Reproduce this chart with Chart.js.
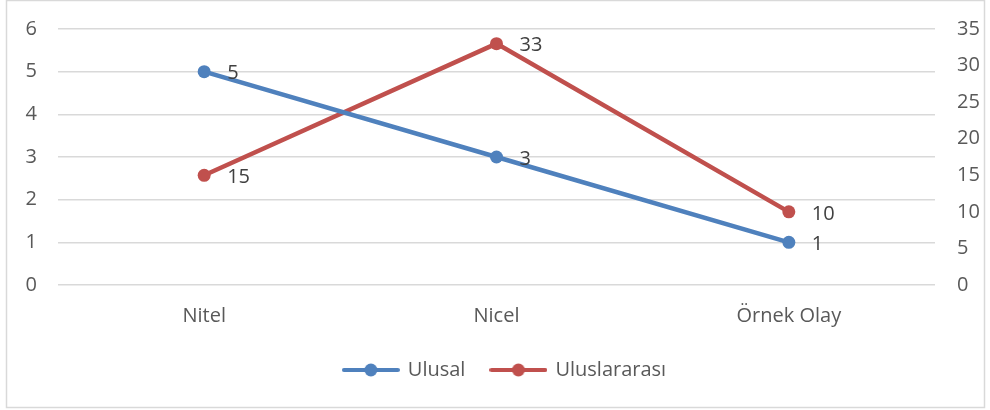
<!DOCTYPE html>
<html>
<head>
<meta charset="utf-8">
<script src="https://cdn.jsdelivr.net/npm/chart.js@4"></script>
<style>
  body { margin: 0; background: #ffffff; }
  #wrap { position: relative; width: 990px; height: 410px; }
</style>
</head>
<body>
<div id="wrap"><canvas id="chart" width="990" height="410"></canvas></div>
<script>
// values
const categories = ["Nitel", "Nicel", "Örnek Olay"];
const ulusal = [5, 3, 1];
const uluslararasi = [15, 33, 10];
const seriesNames = ["Ulusal", "Uluslararası"];

const blue = "#4F81BD";
const red = "#C0504D";
const fontFamily = "'Open Sans', sans-serif";

// little line + dot sample for the legend, like in the office chart
function legendSample(color) {
  const c = document.createElement("canvas");
  c.width = 58;
  c.height = 14;
  const g = c.getContext("2d");
  g.strokeStyle = color;
  g.lineWidth = 4;
  g.lineCap = "round";
  g.beginPath();
  g.moveTo(2, 7);
  g.lineTo(56, 7);
  g.stroke();
  g.fillStyle = color;
  g.beginPath();
  g.arc(29, 7, 6.5, 0, Math.PI * 2);
  g.fill();
  return c;
}

// value labels on the right of each point
const valueLabels = {
  id: "valueLabels",
  afterDatasetsDraw(chart) {
    const ctx = chart.ctx;
    ctx.save();
    ctx.font = "20px " + fontFamily;
    ctx.fillStyle = "#404040";
    ctx.textAlign = "left";
    ctx.textBaseline = "middle";
    chart.data.datasets.forEach((ds, i) => {
      const meta = chart.getDatasetMeta(i);
      meta.data.forEach((pt, j) => {
        ctx.fillText(String(ds.data[j]), pt.x + 23, pt.y + 2);
      });
    });
    ctx.restore();
  },
};

// thin grey frame round the whole chart
const frame = {
  id: "frame",
  beforeDraw(chart) {
    const ctx = chart.ctx;
    ctx.save();
    ctx.strokeStyle = "#d9d9d9";
    ctx.lineWidth = 1.5;
    ctx.strokeRect(6.5, 0.5, 978, 407);
    ctx.restore();
  },
};

const ctx = document.getElementById("chart").getContext("2d");
const config = {
  type: "line",
  data: {
    labels: categories,
    datasets: [
      {
        label: seriesNames[0],
        data: ulusal,
        yAxisID: "y",
        borderColor: blue,
        backgroundColor: blue,
        borderWidth: 4.5,
        pointRadius: 6.5,
        pointHoverRadius: 6.5,
        pointBorderWidth: 0,
        tension: 0,
      },
      {
        label: seriesNames[1],
        data: uluslararasi,
        yAxisID: "y1",
        borderColor: red,
        backgroundColor: red,
        borderWidth: 4.5,
        pointRadius: 6.5,
        pointHoverRadius: 6.5,
        pointBorderWidth: 0,
        tension: 0,
      },
    ],
  },
  options: {
    responsive: false,
    animation: false,
    layout: {
      padding: { top: 29, left: 20, right: 0, bottom: 20 },
    },
    plugins: {
      legend: {
        display: true,
        position: "bottom",
        labels: {
          font: { family: fontFamily, size: 20 },
          color: "#595959",
          usePointStyle: true,
          pointStyleWidth: 54,
          padding: 26,
          generateLabels(chart) {
            const items = Chart.defaults.plugins.legend.labels.generateLabels(chart);
            items.forEach((it, i) => {
              it.pointStyle = legendSample(i === 0 ? blue : red);
            });
            return items;
          },
        },
      },
      tooltip: { enabled: false },
    },
    scales: {
      x: {
        offset: true,
        grid: { display: false, drawTicks: false },
        border: { display: false },
        ticks: {
          font: { family: fontFamily, size: 20 },
          color: "#595959",
          padding: 19,
          maxRotation: 0,
        },
        afterFit(scale) {
          scale.height = 49;
          scale.paddingLeft = 0;
          scale.paddingRight = 0;
        },
      },
      y: {
        position: "left",
        min: 0,
        max: 6,
        grid: { color: "#d9d9d9", lineWidth: 1.5, drawTicks: false },
        border: { display: false },
        ticks: {
          stepSize: 1,
          font: { family: fontFamily, size: 20 },
          color: "#595959",
          padding: 21,
        },
        afterFit(scale) {
          scale.width = 38;
          scale.paddingTop = 0;
          scale.paddingBottom = 0;
        },
      },
      y1: {
        position: "right",
        min: 0,
        max: 35,
        grid: { display: false, drawTicks: false },
        border: { display: false },
        ticks: {
          stepSize: 5,
          font: { family: fontFamily, size: 20 },
          color: "#595959",
          padding: 22,
        },
        afterFit(scale) {
          scale.width = 55;
          scale.paddingTop = 0;
          scale.paddingBottom = 0;
        },
      },
    },
  },
  plugins: [frame, valueLabels],
};

const myChart = new Chart(ctx, config);
</script>
</body>
</html>
